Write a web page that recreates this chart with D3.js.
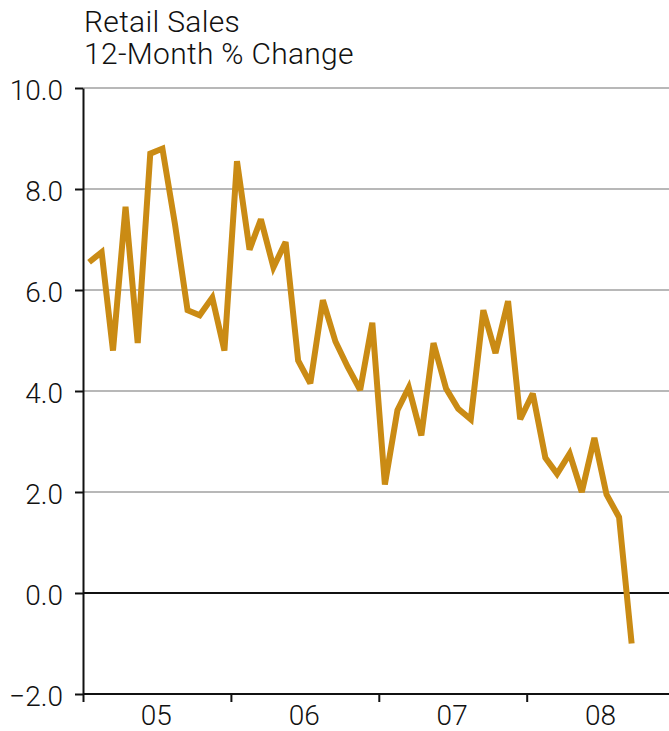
<!DOCTYPE html>
<html>
<head>
<meta charset="utf-8">
<script src="https://cdn.jsdelivr.net/npm/d3@7"></script>
<style>
  body { margin: 0; background: #fff; }
  text { font-family: Roboto, "Liberation Sans", Arial, sans-serif; font-weight: 300; fill: #111; }
</style>
</head>
<body>
<div id="chart"></div>
<script>
// monthly 12-month % change, Jan 2005 .. Sep 2008
const startMonth = new Date(2005, 0, 1);
const salesChange = [
  6.55, 6.75, 4.8, 7.65, 4.95, 8.7, 8.8, 7.3, 5.6, 5.5, 5.85, 4.8,
  8.55, 6.8, 7.4, 6.45, 6.95, 4.6, 4.15, 5.8, 4.98, 4.48, 4.02, 5.35,
  2.15, 3.62, 4.07, 3.12, 4.95, 4.05, 3.65, 3.44, 5.6, 4.75, 5.78, 3.44,
  3.95, 2.68, 2.36, 2.76, 2.0, 3.07, 1.95, 1.5, -1.0
];
const yTicks = [-2, 0, 2, 4, 6, 8, 10];
const yearLabels = ["05", "06", "07", "08"];
const titleLines = ["Retail Sales", "12-Month % Change"];

const width = 669, height = 731;
const margin = { top: 88, right: 0, bottom: 37, left: 83 };
const fontSize = "28px";

const svg = d3.select("#chart")
    .append("svg")
    .attr("width", width)
    .attr("height", height);

// one year = 148px, plot runs off the right edge a bit
const x = d3.scaleTime()
    .domain([new Date(2005, 0, 1), new Date(2009, 0, 1)])
    .range([margin.left, margin.left + 4 * 148]);

const y = d3.scaleLinear()
    .domain([-2, 10])
    .range([height - margin.bottom, margin.top]);

const data = salesChange.map((v, i) => ({
    date: d3.timeDay.offset(d3.timeMonth.offset(startMonth, i), 15),
    value: v
}));

// title
svg.append("text")
    .attr("x", 84)
    .attr("y", 32)
    .style("font-size", "30px")
    .style("letter-spacing", "0.3px")
    .selectAll("tspan")
    .data(titleLines)
    .enter()
    .append("tspan")
    .attr("x", 84)
    .attr("dy", (d, i) => i === 0 ? 0 : 32)
    .text((d) => d);

// gridlines
svg.append("g")
    .selectAll("line")
    .data(yTicks.filter((d) => d > 0))
    .enter()
    .append("line")
    .attr("x1", margin.left)
    .attr("x2", width)
    .attr("y1", (d) => y(d))
    .attr("y2", (d) => y(d))
    .style("stroke", "#b8b8b8")
    .style("stroke-width", 2);

// zero line
svg.append("line")
    .attr("x1", margin.left)
    .attr("x2", width)
    .attr("y1", y(0))
    .attr("y2", y(0))
    .style("stroke", "#111")
    .style("stroke-width", 2);

// y axis
const yAxis = svg.append("g")
    .attr("transform", `translate(${margin.left},0)`)
    .call(d3.axisLeft(y)
        .tickValues(yTicks)
        .tickFormat(d3.format(".1f"))
        .tickSize(8)
        .tickSizeOuter(0)
        .tickPadding(12));
yAxis.select(".domain").style("stroke", "#111").style("stroke-width", 2);
yAxis.selectAll(".tick line").style("stroke", "#111").style("stroke-width", 2);
yAxis.selectAll("text")
    .attr("dy", "0.4em")
    .style("font-size", fontSize)
    .style("font-family", "Roboto, 'Liberation Sans', Arial, sans-serif")
    .style("font-weight", 300)
    .style("fill", "#111");

// x axis
const xAxis = svg.append("g")
    .attr("transform", `translate(0,${y(-2)})`)
    .call(d3.axisBottom(x)
        .ticks(d3.timeYear.every(1))
        .tickFormat("")
        .tickSize(8)
        .tickSizeOuter(0));
xAxis.select(".domain")
    .attr("d", `M${margin.left},0H${width}`)
    .style("stroke", "#111").style("stroke-width", 2);
xAxis.selectAll(".tick line").style("stroke", "#111").style("stroke-width", 2);

svg.append("g")
    .selectAll("text")
    .data(yearLabels)
    .enter()
    .append("text")
    .attr("x", (d, i) => x(new Date(2005 + i, 6, 1)))
    .attr("y", 725)
    .attr("text-anchor", "middle")
    .style("font-size", fontSize)
    .text((d) => d);

// series
const line = d3.line()
    .x((d) => x(d.date))
    .y((d) => y(d.value));

svg.append("path")
    .datum(data)
    .attr("d", line)
    .style("fill", "none")
    .style("stroke", "#ca8b14")
    .style("stroke-width", 6)
    .style("stroke-linejoin", "miter")
    .style("stroke-miterlimit", 3);
</script>
</body>
</html>
